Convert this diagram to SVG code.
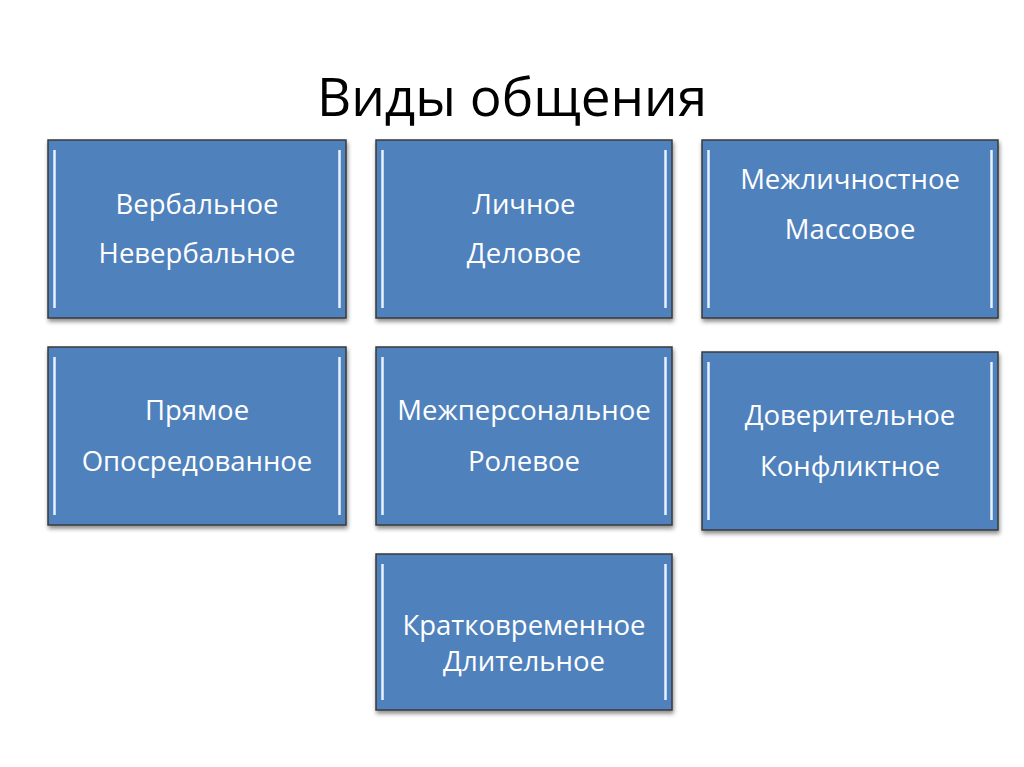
<svg xmlns="http://www.w3.org/2000/svg" width="1024" height="767" viewBox="0 0 1024 767">
<defs>
<filter id="sh" x="-10%" y="-10%" width="120%" height="125%"><feDropShadow dx="1" dy="3" stdDeviation="2" flood-color="#000" flood-opacity="0.45"/></filter>
<linearGradient id="hl" x1="0" y1="0" x2="1" y2="0"><stop offset="0" stop-color="#a9c6ea"/><stop offset="0.5" stop-color="#eaf3fd"/><stop offset="1" stop-color="#a9c6ea"/></linearGradient>
</defs>
<style>
.box{fill:#4f81bd;stroke:#3a3a3a;stroke-width:1.5}
.bar{fill:url(#hl)}
.t{font-family:"Open Sans","Noto Sans",sans-serif;font-size:27.5px;fill:#fff;text-anchor:middle}
.title{font-family:"Open Sans","Noto Sans",sans-serif;font-size:53px;fill:#000;text-anchor:middle}
</style>
<rect width="1024" height="767" fill="#fff"/>
<text class="title" x="512" y="116">Виды общения</text>
<g id="n1"><rect class="box" x="48" y="140" width="298" height="178" filter="url(#sh)"/><rect class="bar" x="53" y="150" width="3" height="158"/><rect class="bar" x="338" y="150" width="3" height="158"/><text class="t" x="197" y="214">Вербальное</text><text class="t" x="197" y="263">Невербальное</text></g>
<g id="n2"><rect class="box" x="376" y="140" width="296" height="178" filter="url(#sh)"/><rect class="bar" x="381" y="150" width="3" height="158"/><rect class="bar" x="664" y="150" width="3" height="158"/><text class="t" x="524" y="214">Личное</text><text class="t" x="524" y="263">Деловое</text></g>
<g id="n3"><rect class="box" x="702" y="140" width="296" height="178" filter="url(#sh)"/><rect class="bar" x="707" y="150" width="3" height="158"/><rect class="bar" x="990" y="150" width="3" height="158"/><text class="t" x="850" y="189">Межличностное</text><text class="t" x="850" y="239">Массовое</text></g>
<g id="n4"><rect class="box" x="48" y="347" width="298" height="178" filter="url(#sh)"/><rect class="bar" x="53" y="357" width="3" height="158"/><rect class="bar" x="338" y="357" width="3" height="158"/><text class="t" x="197" y="420">Прямое</text><text class="t" x="197" y="471">Опосредованное</text></g>
<g id="n5"><rect class="box" x="376" y="347" width="296" height="178" filter="url(#sh)"/><rect class="bar" x="381" y="357" width="3" height="158"/><rect class="bar" x="664" y="357" width="3" height="158"/><text class="t" x="524" y="420">Межперсональное</text><text class="t" x="524" y="471">Ролевое</text></g>
<g id="n6"><rect class="box" x="702" y="352" width="296" height="178" filter="url(#sh)"/><rect class="bar" x="707" y="362" width="3" height="158"/><rect class="bar" x="990" y="362" width="3" height="158"/><text class="t" x="850" y="425">Доверительное</text><text class="t" x="850" y="476">Конфликтное</text></g>
<g id="n7"><rect class="box" x="376" y="554" width="296" height="156" filter="url(#sh)"/><rect class="bar" x="381" y="564" width="3" height="136"/><rect class="bar" x="664" y="564" width="3" height="136"/><text class="t" x="524" y="635">Кратковременное</text><text class="t" x="524" y="671">Длительное</text></g>
<g id="connectors"/>
</svg>
